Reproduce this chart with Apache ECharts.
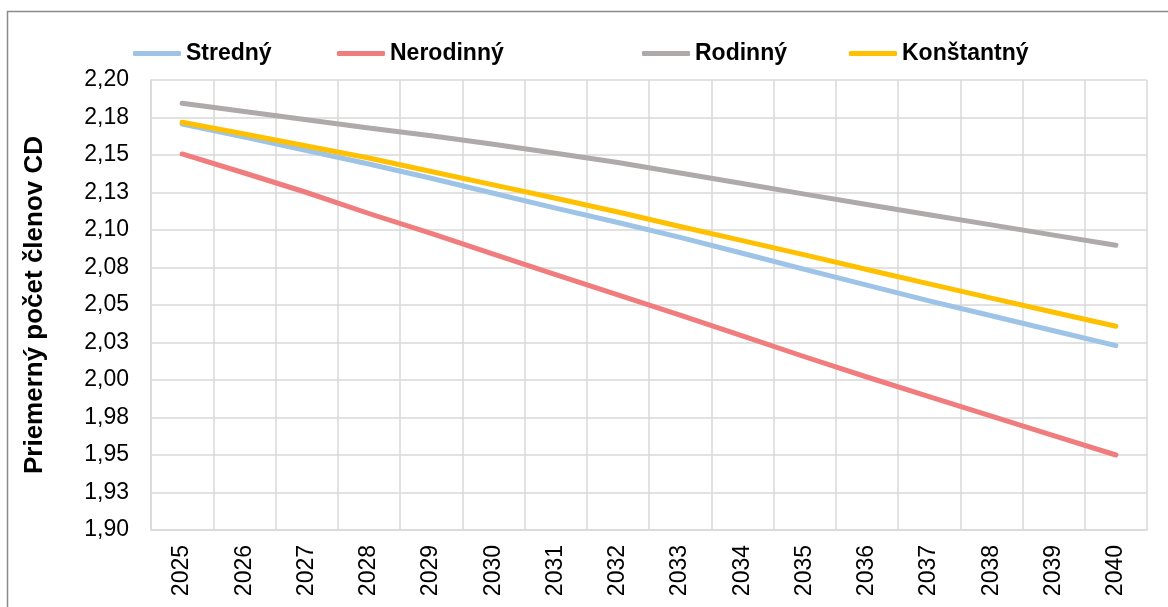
<!DOCTYPE html>
<html>
<head>
<meta charset="utf-8">
<script src="https://cdn.jsdelivr.net/npm/echarts@6/dist/echarts.min.js"></script>
<style>
  html, body { margin: 0; padding: 0; background: #fff; }
  #chart { width: 1168px; height: 607px; }
</style>
</head>
<body>
<div id="chart"></div>
<script>
var years = ['2025', '2026', '2027', '2028', '2029', '2030', '2031', '2032',
  '2033', '2034', '2035', '2036', '2037', '2038', '2039', '2040']

var stredny = [2.1707, 2.162, 2.153, 2.144, 2.1345, 2.1245, 2.1146, 2.105,
  2.0951, 2.0845, 2.0737, 2.0632, 2.0527, 2.0428, 2.0328, 2.0229]
var nerodinny = [2.1507, 2.138, 2.125, 2.111, 2.0977, 2.0839, 2.0703, 2.0568,
  2.0432, 2.0294, 2.0155, 2.002, 1.9889, 1.9759, 1.9629, 1.950]
var rodinny = [2.1845, 2.179, 2.1735, 2.168, 2.1629, 2.1571, 2.1512, 2.145,
  2.138, 2.131, 2.1239, 2.117, 2.1102, 2.1034, 2.0966, 2.0898]
var konstantny = [2.1718, 2.164, 2.156, 2.148, 2.139, 2.1301, 2.1212, 2.112,
  2.1023, 2.0929, 2.0834, 2.0737, 2.0641, 2.0546, 2.0452, 2.0358]

var yTickLabels = ['1,90', '1,93', '1,95', '1,98', '2,00', '2,03', '2,05',
  '2,08', '2,10', '2,13', '2,15', '2,18', '2,20']

var seriesNames = ['Stredný', 'Nerodinný', 'Rodinný', 'Konštantný']
var seriesColors = ['#9DC3E6', '#F17C7E', '#AEAAAA', '#FFC000']
var seriesData = [stredny, nerodinny, rodinny, konstantny]
var legendLeft = [133, 337, 642, 849]

var font = '"Liberation Sans", Arial, sans-serif'
var gridColor = '#D9D9D9'

var chart = echarts.init(document.getElementById('chart'))

chart.setOption({
  animation: false,
  textStyle: { fontFamily: font },
  graphic: [
    {
      type: 'rect',
      shape: { x: 7.5, y: 11.5, width: 1300, height: 800 },
      style: { fill: 'none', stroke: '#8A8A8A', lineWidth: 1.5 },
      silent: true
    }
  ],
  legend: seriesNames.map(function (name, i) {
    return {
      data: [name],
      left: legendLeft[i],
      top: 42,
      padding: 0,
      icon: 'roundRect',
      itemWidth: 48,
      itemHeight: 5,
      textStyle: {
        fontFamily: font,
        fontSize: 23,
        fontWeight: 'bold',
        color: '#000'
      }
    }
  }),
  grid: {
    left: 151,
    right: 21,
    top: 80,
    bottom: 77
  },
  xAxis: {
    type: 'category',
    data: years,
    boundaryGap: true,
    axisLine: { lineStyle: { color: gridColor, width: 1.5 } },
    axisTick: { show: false },
    splitLine: { show: true, lineStyle: { color: gridColor, width: 1.5 } },
    axisLabel: {
      rotate: 90,
      margin: 15,
      fontSize: 23,
      color: '#000',
      fontFamily: font
    }
  },
  yAxis: {
    type: 'value',
    min: 1.9,
    max: 2.2,
    interval: 0.025,
    name: 'Priemerný počet členov CD',
    nameLocation: 'middle',
    nameGap: 103,
    nameTextStyle: {
      fontFamily: font,
      fontSize: 26,
      fontWeight: 'bold',
      color: '#000'
    },
    axisLine: { show: true, lineStyle: { color: gridColor, width: 1.5 } },
    axisTick: { show: false },
    splitLine: { lineStyle: { color: gridColor, width: 1.5 } },
    axisLabel: {
      margin: 22,
      fontSize: 23,
      color: '#000',
      fontFamily: font,
      formatter: function (value) {
        return yTickLabels[Math.round((value - 1.9) / 0.025)]
      }
    }
  },
  series: seriesNames.map(function (name, i) {
    return {
      name: name,
      type: 'line',
      data: seriesData[i],
      symbol: 'none',
      color: seriesColors[i],
      lineStyle: { width: 5, cap: 'round', join: 'round' }
    }
  })
})
</script>
</body>
</html>
